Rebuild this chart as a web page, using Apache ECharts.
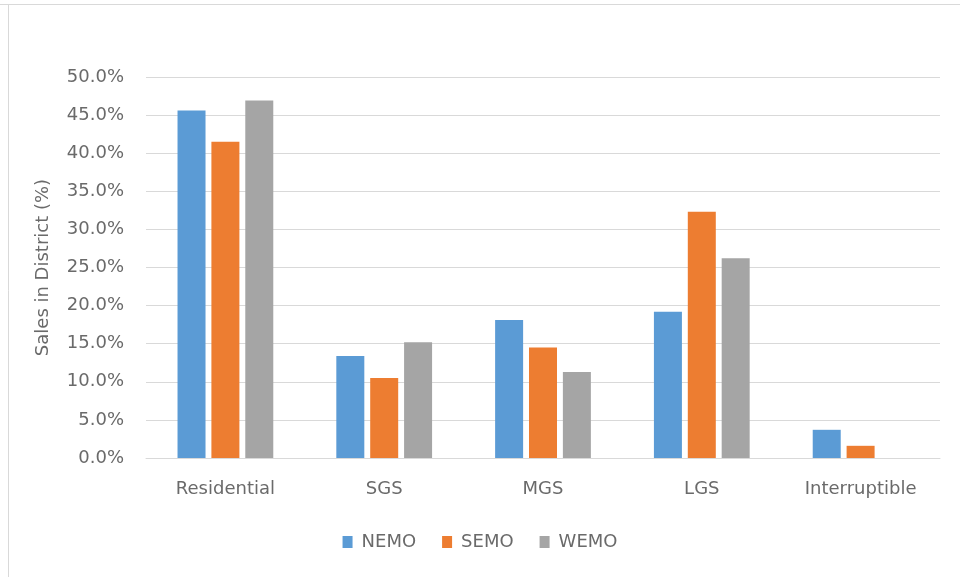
<!DOCTYPE html>
<html>
<head>
<meta charset="utf-8">
<script src="https://cdn.jsdelivr.net/npm/echarts@6/dist/echarts.min.js"></script>
<style>
  html, body { margin: 0; padding: 0; background: #ffffff; }
  #chart { width: 960px; height: 577px; }
</style>
</head>
<body>
<div id="chart"></div>
<script>
// Share of sales by customer class in each district
const categories = ['Residential', 'SGS', 'MGS', 'LGS', 'Interruptible'];
const nemo = [45.6, 13.4, 18.1, 19.2, 3.7];
const semo = [41.5, 10.5, 14.5, 32.3, 1.6];
const wemo = [46.9, 15.2, 11.3, 26.2, 0];
const seriesNames = ['NEMO', 'SEMO', 'WEMO'];
const seriesColors = ['#5B9BD5', '#ED7D31', '#A5A5A5'];

const FONT = 'DejaVu Sans';
const TEXT = '#6a6a6a';

const chart = echarts.init(document.getElementById('chart'), null, { renderer: 'canvas' });

const values = [nemo, semo, wemo];

chart.setOption({
  animation: false,
  backgroundColor: '#ffffff',
  textStyle: { fontFamily: FONT },
  graphic: [
    { type: 'line', shape: { x1: 0, y1: 4.5, x2: 960, y2: 4.5 }, style: { stroke: '#d9d9d9', lineWidth: 1 } },
    { type: 'line', shape: { x1: 8.5, y1: 4.5, x2: 8.5, y2: 577 }, style: { stroke: '#d9d9d9', lineWidth: 1 } }
  ],
  grid: { left: 146, right: 20, top: 77, bottom: 119, containLabel: false },
  legend: {
    data: seriesNames,
    top: 528,
    left: 'center',
    itemWidth: 10,
    itemHeight: 12,
    itemGap: 26,
    icon: 'rect',
    textStyle: { color: TEXT, fontSize: 18, fontFamily: FONT, padding: [0, 0, 0, 4] }
  },
  xAxis: {
    type: 'category',
    data: categories,
    axisLine: { show: true, lineStyle: { color: '#d9d9d9', width: 1 } },
    axisTick: { show: false },
    axisLabel: { color: TEXT, fontSize: 18, fontFamily: FONT, margin: 22 }
  },
  yAxis: {
    type: 'value',
    min: 0,
    max: 50,
    interval: 5,
    name: 'Sales in District (%)',
    nameLocation: 'middle',
    nameGap: 94,
    nameTextStyle: { color: TEXT, fontSize: 18, fontFamily: FONT },
    axisLine: { show: false },
    axisTick: { show: false },
    axisLabel: {
      color: TEXT, fontSize: 18, fontFamily: FONT, margin: 22,
      formatter: v => v.toFixed(1) + '%'
    },
    splitLine: { lineStyle: { color: '#d9d9d9', width: 1 } }
  },
  series: seriesNames.map((name, i) => ({
    name: name,
    type: 'bar',
    data: values[i],
    barWidth: 28,
    barGap: '21%',
    itemStyle: { color: seriesColors[i] }
  }))
});
</script>
</body>
</html>
